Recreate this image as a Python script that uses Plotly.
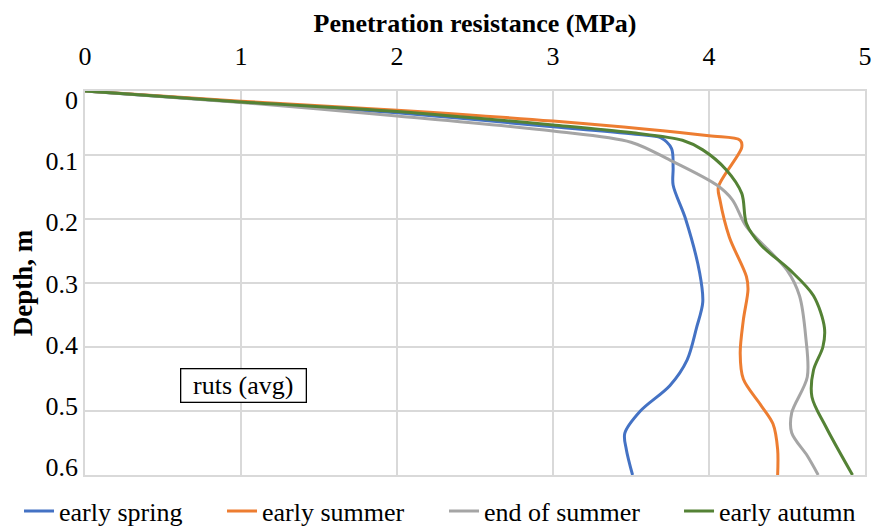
import plotly.graph_objects as go

names = ["early spring", "early summer", "end of summer", "early autumn"]
colors = ["#4472C4", "#ED7D31", "#A5A5A5", "#548235"]

spring_x = [0, 1.0, 2.0, 3.0, 3.55, 3.69, 3.76, 3.77, 3.77, 3.85, 3.94, 3.96, 3.92, 3.86, 3.75, 3.56, 3.46, 3.47, 3.51]
spring_d = [0, 0.017, 0.034, 0.056, 0.068, 0.073, 0.09, 0.12, 0.147, 0.2, 0.284, 0.33, 0.37, 0.42, 0.46, 0.50, 0.535, 0.56, 0.6]

summer_x = [0, 1.0, 2.0, 3.0, 4.0, 4.2, 4.21, 4.06, 4.07, 4.13, 4.24, 4.25, 4.22, 4.2, 4.22, 4.33, 4.41, 4.44, 4.44]
summer_d = [0, 0.016, 0.030, 0.047, 0.07, 0.077, 0.088, 0.15, 0.17, 0.228, 0.29, 0.31, 0.358, 0.41, 0.45, 0.49, 0.52, 0.56, 0.6]

endsum_x = [0, 1.0, 2.0, 3.0, 3.5, 3.75, 4.05, 4.15, 4.24, 4.5, 4.58, 4.62, 4.63, 4.53, 4.53, 4.63, 4.7]
endsum_d = [0, 0.018, 0.039, 0.0625, 0.08, 0.108, 0.147, 0.17, 0.212, 0.28, 0.32, 0.384, 0.447, 0.503, 0.534, 0.57, 0.6]

autumn_x = [0, 1.0, 2.0, 3.0, 3.5, 3.83, 3.96, 4.11, 4.21, 4.24, 4.33, 4.52, 4.67, 4.74, 4.73, 4.67, 4.66, 4.75, 4.92]
autumn_d = [0, 0.017, 0.032, 0.053, 0.065, 0.077, 0.092, 0.123, 0.16, 0.207, 0.24, 0.28, 0.32, 0.37, 0.40, 0.436, 0.478, 0.525, 0.6]

series = [(spring_x, spring_d), (summer_x, summer_d), (endsum_x, endsum_d), (autumn_x, autumn_d)]

x_ticks = [0, 1, 2, 3, 4, 5]
y_ticks = [0, 0.1, 0.2, 0.3, 0.4, 0.5, 0.6]
y_ticktext = ["0", "0.1", "0.2", "0.3", "0.4", "0.5", "0.6"]

FONT = "Liberation Serif"
legend_ids = ["legend", "legend2", "legend3", "legend4"]
legend_x = [0.0218, 0.2546, 0.5092, 0.7787]

fig = go.Figure()
for name, col, (xs, ds), lid in zip(names, colors, series, legend_ids):
    fig.add_trace(go.Scatter(x=xs, y=ds, mode="lines", name=name, legend=lid,
                             line=dict(color=col, width=3, shape="spline", smoothing=0.9)))

# invisible carrier so the label axis (y2) is drawn
fig.add_trace(go.Scatter(x=spring_x, y=spring_d, yaxis="y2", mode="lines", opacity=0,
                         line=dict(width=0), showlegend=False, hoverinfo="skip"))

fig.add_annotation(x=1.019, y=0.46, text="ruts (avg)", showarrow=False,
                   font=dict(family=FONT, size=26, color="black"),
                   width=120, height=28,
                   bordercolor="black", borderwidth=1.3, borderpad=2, bgcolor="white")

grid = "#d9d9d9"
legends = {}
for lid, lx in zip(legend_ids, legend_x):
    legends[lid] = dict(orientation="h", xref="container", x=lx, xanchor="left",
                        yref="container", y=0.0285, yanchor="middle",
                        font=dict(size=26), bgcolor="rgba(0,0,0,0)")

fig.update_layout(
    width=872, height=526,
    margin=dict(l=85, r=7, t=91, b=51),
    paper_bgcolor="white", plot_bgcolor="white",
    font=dict(family=FONT, size=26, color="black"),
    xaxis=dict(side="top", range=[0, 5], tickvals=x_ticks, ticktext=[str(v) for v in x_ticks],
               showgrid=True, gridcolor=grid, gridwidth=1.5,
               showline=True, linecolor=grid, linewidth=1.5, mirror=True,
               zeroline=False, ticks="", ticklabelstandoff=14, automargin=False,
               title=dict(text="<b>Penetration resistance (MPa)</b>", font=dict(size=26), standoff=2)),
    yaxis=dict(range=[0.6, 0], tickvals=y_ticks, showticklabels=False,
               showgrid=True, gridcolor=grid, gridwidth=1.5,
               showline=True, linecolor=grid, linewidth=1.5, mirror=True,
               zeroline=False, ticks="", automargin=False),
    # label axis: Excel places the depth labels on a slightly compressed scale
    yaxis2=dict(overlaying="y", side="left", range=[0.6131, -0.0147],
                tickvals=y_ticks, ticktext=y_ticktext, showgrid=False, showline=False,
                zeroline=False, ticks="", ticklabelstandoff=6, automargin=False,
                title=dict(text="<b>Depth, m</b>", font=dict(size=27), standoff=5)),
    showlegend=True,
    **legends,
)

fig.write_html("out.html", config={"displayModeBar": False},
               post_script="document.body.style.margin='0px';")
